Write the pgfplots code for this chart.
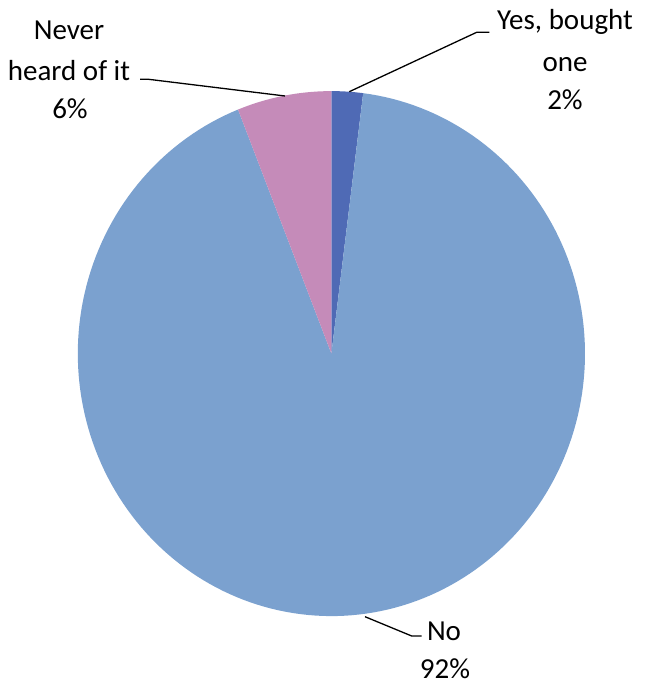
\documentclass[border=0pt]{standalone}
\usepackage{pgfplots}
\pgfplotsset{compat=1.18}
\usepackage{fontspec}
\setmainfont{Carlito}
\definecolor{cyes}{HTML}{4F6AB5}
\definecolor{cno}{HTML}{7BA1CF}
\definecolor{cnever}{HTML}{C58BB9}
% shares in percent
\def\vYes{2}
\def\vNo{92}
\def\vNever{6}
\begin{document}
\fontsize{29bp}{39bp}\selectfont
\begin{tikzpicture}
\pgfmathsetmacro{\aA}{90}
\pgfmathsetmacro{\aB}{\aA-3.6*\vYes}
\pgfmathsetmacro{\aC}{\aB-3.6*\vNo}
\pgfmathsetmacro{\aD}{\aC-3.6*\vNever}
\begin{axis}[x=1bp,y=1bp,xmin=0,xmax=645,ymin=0,ymax=685,
  hide axis, clip=false, scale only axis]
\addplot[draw=none] coordinates {(0,0) (645,685)};
\addplot[fill=cyes, draw=none, domain=\aB:\aA, samples=10, variable=\t]
  ({331.4+253.6*cos(t)},{331.4+262.5*sin(t)}) -- (axis cs:331.4,331.4) -- cycle;
\addplot[fill=cno, draw=none, domain=\aC:\aB, samples=200, variable=\t]
  ({331.4+253.6*cos(t)},{331.4+262.5*sin(t)}) -- (axis cs:331.4,331.4) -- cycle;
\addplot[fill=cnever, draw=none, domain=\aD:\aC, samples=20, variable=\t]
  ({331.4+253.6*cos(t)},{331.4+262.5*sin(t)}) -- (axis cs:331.4,331.4) -- cycle;
% leader lines
\addplot[black, line width=1.3bp] coordinates {(140,605.7) (148.5,605.7) (285,589)};
\addplot[black, line width=1.3bp] coordinates {(349.3,593.3) (476.7,652.7) (489.3,652.7)};
\addplot[black, line width=1.3bp] coordinates {(365,68.3) (411.7,49) (421.7,49)};
% labels
\node[anchor=base, inner sep=0pt] at (axis cs:69,645.7) {Never};
\node[anchor=base, inner sep=0pt] at (axis cs:69,604) {heard of it};
\node[anchor=base, inner sep=0pt] at (axis cs:70,566.7) {6\%};
\node[anchor=base, inner sep=0pt] at (axis cs:565,655) {Yes, bought};
\node[anchor=base, inner sep=0pt] at (axis cs:565,613.3) {one};
\node[anchor=base, inner sep=0pt] at (axis cs:565,575.7) {2\%};
\node[anchor=base, inner sep=0pt] at (axis cs:444,44.3) {No};
\node[anchor=base, inner sep=0pt] at (axis cs:445,6.5) {92\%};
\end{axis}
\end{tikzpicture}
\end{document}
